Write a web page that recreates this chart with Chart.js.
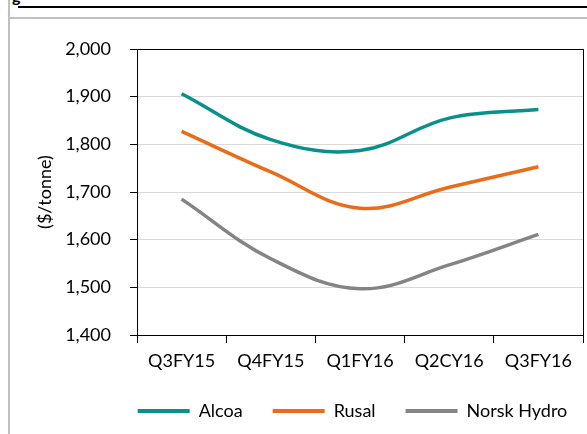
<!DOCTYPE html>
<html>
<head>
<meta charset="utf-8">
<script src="https://cdn.jsdelivr.net/npm/chart.js@4/dist/chart.umd.min.js"></script>
<style>
  html, body { margin: 0; padding: 0; background: #fff; }
  body { width: 587px; height: 434px; position: relative; overflow: hidden; font-family: Lato, sans-serif; }
  #wrap { position: absolute; left: 0; top: 0; width: 587px; height: 434px; }
  .vline { position: absolute; left: 8px; top: 0; width: 2px; height: 434px; background: #bfbfbf; }
  .hgray { position: absolute; left: 8px; top: 17px; width: 579px; height: 2px; background: #c0c0c0; }
  .hblack { position: absolute; left: 18px; top: 6px; width: 569px; height: 2px; background: #000; }
  .glyph { position: absolute; left: 12px; top: -14px; font: bold 16px Lato, sans-serif; color: #000; }
</style>
</head>
<body>
<div class="glyph">g</div>
<div class="hblack"></div>
<div class="hgray"></div>
<div class="vline"></div>
<div id="wrap"><canvas id="c" width="587" height="434"></canvas></div>
<script>
const categories = ["Q3FY15", "Q4FY15", "Q1FY16", "Q2CY16", "Q3FY16"];
const alcoa = [1906, 1810, 1787, 1855, 1873];
const rusal = [1827, 1742, 1666, 1710, 1753];
const norskHydro = [1685, 1560, 1497, 1547, 1611];
const yTicks = [1400, 1500, 1600, 1700, 1800, 1900, 2000];
const seriesNames = ["Alcoa", "Rusal", "Norsk Hydro"];
const seriesColors = ["#08908A", "#EA6C1A", "#848484"];

const frame = {
  id: 'frame',
  afterLayout(chart) {
    if (chart.legend) { chart.legend.left += 44; chart.legend.right += 44; }
  },
  afterDatasetsDraw(chart) {
    const a = chart.chartArea, ctx = chart.ctx;
    ctx.save();
    ctx.strokeStyle = '#000';
    ctx.lineWidth = 1;
    ctx.strokeRect(Math.round(a.left) + 0.5, Math.round(a.top) + 0.5, Math.round(a.right - a.left), Math.round(a.bottom - a.top));
    ctx.restore();
  }
};

const series = [alcoa, rusal, norskHydro];
new Chart(document.getElementById('c'), {
  type: 'line',
  data: {
    labels: categories,
    datasets: series.map((d, i) => ({
      label: seriesNames[i],
      data: d,
      borderColor: seriesColors[i],
      backgroundColor: seriesColors[i],
      borderWidth: 3.5,
      pointRadius: 0,
      tension: 0.38,
      fill: false
    }))
  },
  options: {
    responsive: false,
    animation: false,
    devicePixelRatio: 1,
    layout: { padding: { left: 34, right: 4, top: 49, bottom: 4 } },
    font: { family: 'Lato' },
    plugins: {
      legend: {
        position: 'bottom',
        labels: {
          boxWidth: 52,
          boxHeight: 4,
          padding: 30,
          color: '#000',
          font: { family: 'Lato', size: 18 },
          generateLabels(chart) {
            return chart.data.datasets.map((ds, i) => ({
              text: ds.label, fillStyle: ds.borderColor, strokeStyle: ds.borderColor,
              lineWidth: 0, hidden: false, datasetIndex: i, fontColor: '#000'
            }));
          }
        }
      },
      tooltip: { enabled: false }
    },
    scales: {
      x: {
        offset: true,
        grid: { display: true, drawOnChartArea: false, drawTicks: true, tickLength: 8, tickColor: '#000', offset: true },
        border: { color: '#000', width: 1 },
        ticks: { color: '#000', font: { family: 'Lato', size: 18 }, padding: 7, maxRotation: 0 },
        afterFit(s) { s.height = 37; }
      },
      y: {
        min: 1400, max: 2000,
        afterBuildTicks(s) { s.ticks = yTicks.map(v => ({ value: v })); },
        grid: { color: '#d9d9d9', lineWidth: 1, drawTicks: true, tickLength: 7, tickColor: '#000' },
        border: { color: '#000', width: 1 },
        ticks: {
          color: '#000', font: { family: 'Lato', size: 18 }, padding: 19,
          callback: v => v.toLocaleString('en-US')
        },
        title: { display: true, text: '($/tonne)', color: '#000', font: { family: 'Lato', size: 18 }, padding: { top: 0, bottom: 4 } },
        afterFit(s) { s.width = 103; }
      }
    }
  },
  plugins: [frame]
});
</script>
</body>
</html>
